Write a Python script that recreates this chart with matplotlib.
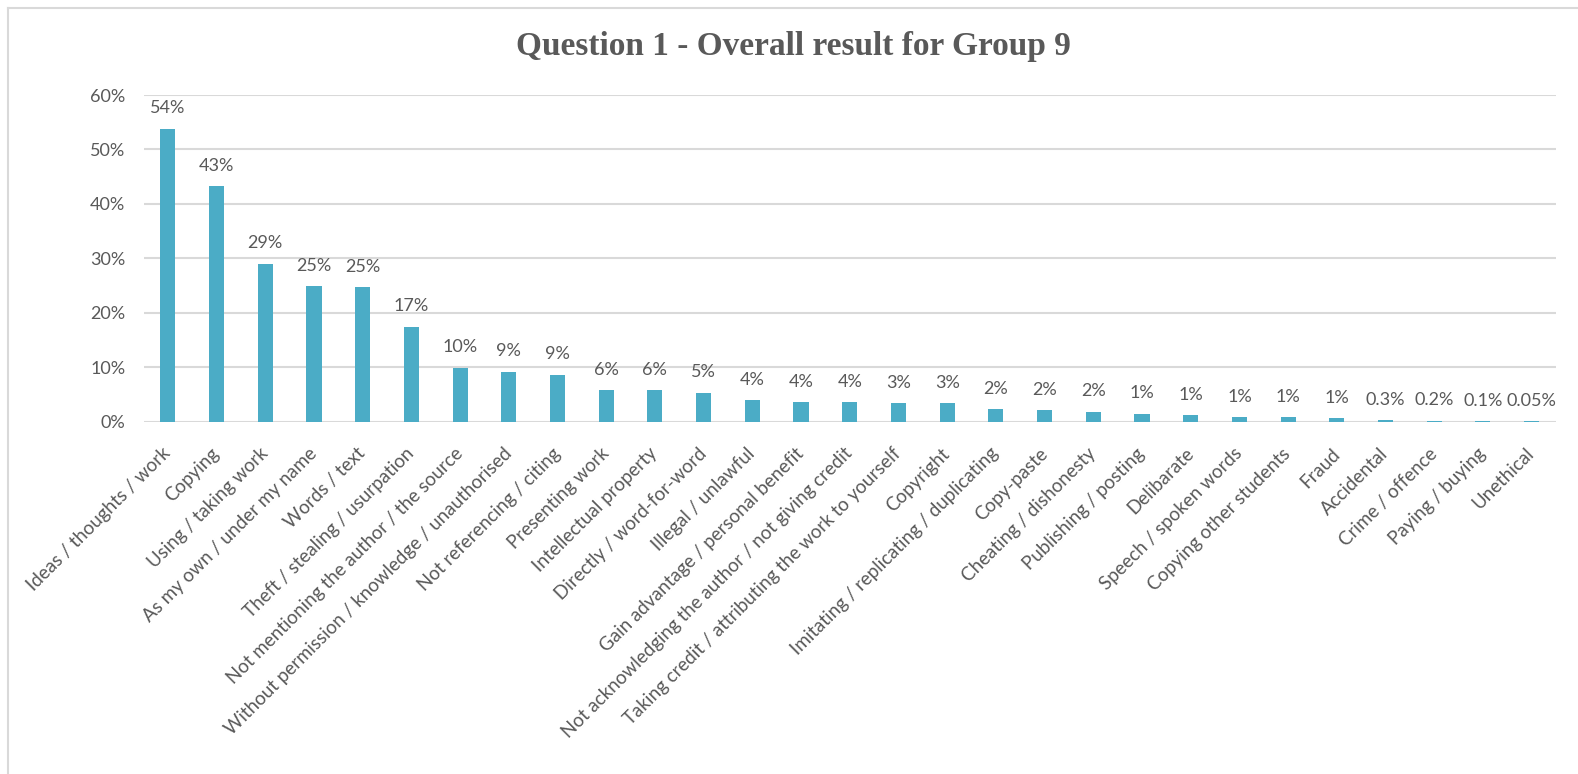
import matplotlib
matplotlib.use("Agg")
import matplotlib.pyplot as plt
from matplotlib.lines import Line2D

# DATA
categories = ["Ideas / thoughts / work", "Copying", "Using / taking work",
              "As my own / under my name", "Words / text", "Theft / stealing / usurpation",
              "Not mentioning the author / the source",
              "Without permission / knowledge / unauthorised",
              "Not referencing / citing", "Presenting work", "Intellectual property",
              "Directly / word-for-word", "Illegal / unlawful",
              "Gain advantage / personal benefit",
              "Not acknowledging the author / not giving credit",
              "Taking credit / attributing the work to yourself", "Copyright",
              "Imitating / replicating / duplicating", "Copy-paste",
              "Cheating / dishonesty", "Publishing / posting", "Delibarate",
              "Speech / spoken words", "Copying other students", "Fraud",
              "Accidental", "Crime / offence", "Paying / buying", "Unethical"]
values = [53.8, 43.2, 29.0, 24.9, 24.7, 17.4, 9.9, 9.2, 8.6, 5.8, 5.8, 5.3, 3.9,
          3.6, 3.6, 3.4, 3.4, 2.3, 2.1, 1.8, 1.5, 1.2, 0.8, 0.8, 0.6,
          0.3, 0.2, 0.1, 0.05]
value_labels = ["54%", "43%", "29%", "25%", "25%", "17%", "10%", "9%", "9%", "6%",
                "6%", "5%", "4%", "4%", "4%", "3%", "3%", "2%", "2%", "2%", "1%",
                "1%", "1%", "1%", "1%", "0.3%", "0.2%", "0.1%", "0.05%"]
yticks = [0, 10, 20, 30, 40, 50, 60]

grey = "#595959"
bar_col = "#4BACC6"
font = "Lato"

W, H = 1578, 774
fig = plt.figure(figsize=(W / 100, H / 100), dpi=100)
# chart frame (only left and top edges show in the crop)
fig.lines.append(Line2D([7.5 / W, 7.5 / W], [0, 1 - 7.5 / H], transform=fig.transFigure,
                        color="#d9d9d9", linewidth=1.5))
fig.lines.append(Line2D([7.5 / W, 1], [1 - 7.5 / H, 1 - 7.5 / H], transform=fig.transFigure,
                        color="#d9d9d9", linewidth=1.5))

left, right, top, bottom = 143.5, 1556, 95, 421.7
ax = fig.add_axes([left / W, 1 - bottom / H, (right - left) / W, (bottom - top) / H])

x = range(len(categories))
ax.bar(x, values, width=0.31, color=bar_col, zorder=3)
for xi, v, lab in zip(x, values, value_labels):
    ax.annotate(lab, (xi, v), xytext=(0, 9), textcoords="offset points",
                ha="center", va="bottom", fontsize=13, color=grey, family=font)

ax.set_xlim(-0.5, len(categories) - 0.5)
ax.set_ylim(0, 60)
ax.set_yticks(yticks)
ax.set_yticklabels([f"{t}%" for t in yticks], fontsize=13, color=grey, family=font)
ax.set_xticks(list(x))
ax.set_xticklabels(categories, rotation=45, ha="right", va="center",
                   rotation_mode="anchor", fontsize=13.5, color=grey, family=font)
ax.tick_params(axis="y", length=0, pad=13)
ax.tick_params(axis="x", length=0, pad=21)
ax.grid(axis="y", color="#d9d9d9", linewidth=1.5, zorder=0)
for s in ["top", "right", "left", "bottom"]:
    ax.spines[s].set_visible(False)

fig.text(793 / W, 1 - 47 / H, "Question 1 - Overall result for Group 9", ha="center",
         va="center", fontsize=24, fontweight="bold", color=grey, family="Liberation Serif")

fig.savefig("out.png", dpi=100)
